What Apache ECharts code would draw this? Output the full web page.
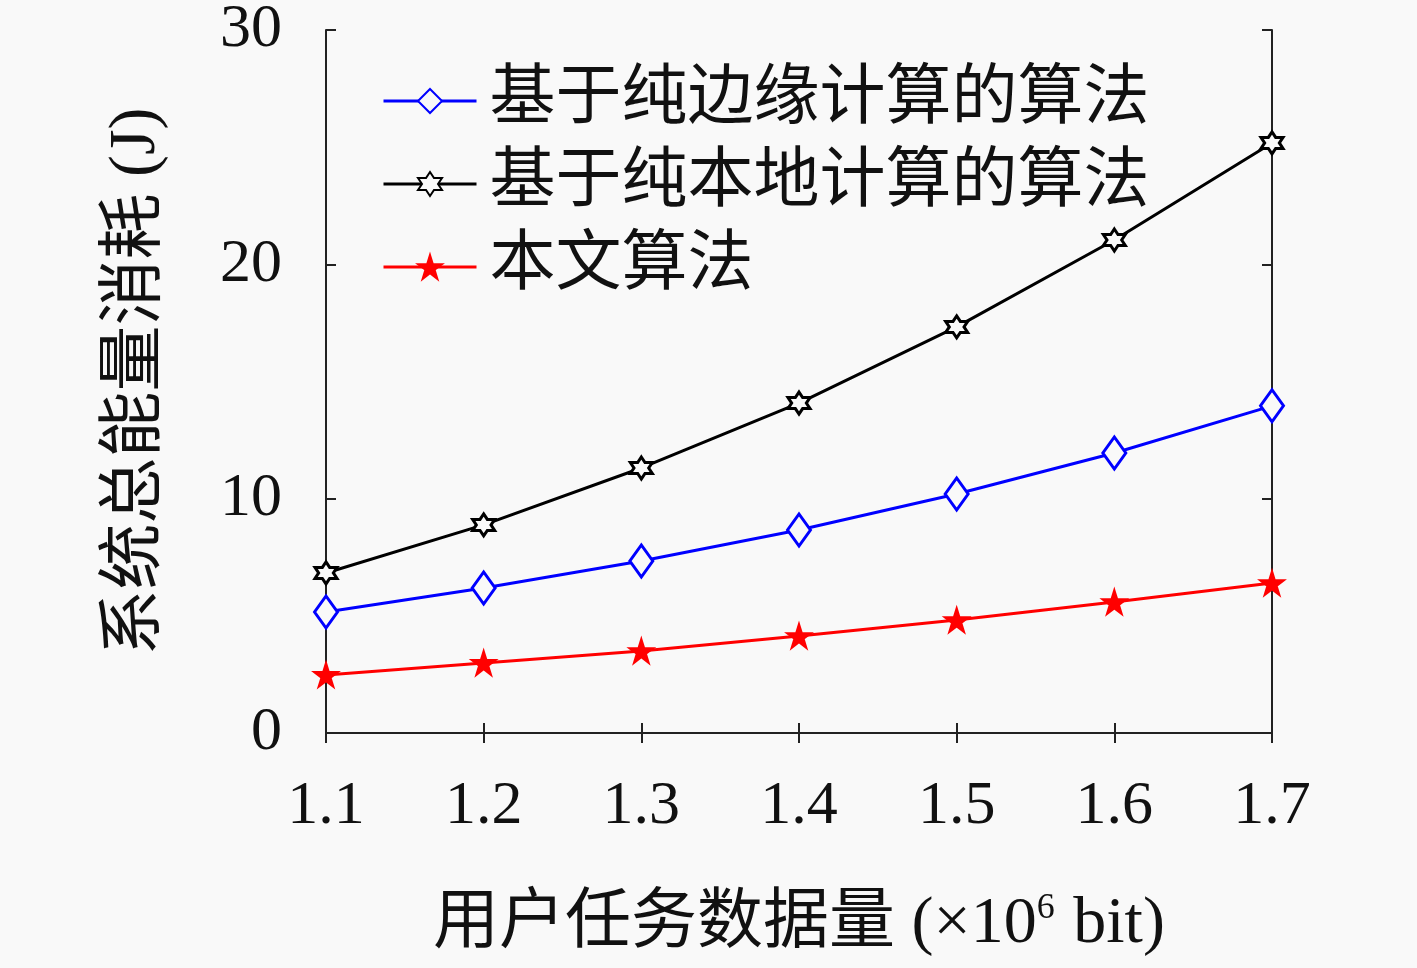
<!DOCTYPE html>
<html>
<head>
<meta charset="utf-8">
<script src="https://cdn.jsdelivr.net/npm/echarts@6/dist/echarts.min.js"></script>
<style>
	html, body { margin: 0; padding: 0; background: #f9f9f9; }
	#chart { width: 1417px; height: 968px; }
</style>
</head>
<body>
<div id="chart"></div>
<script>
var categories = ['1.1', '1.2', '1.3', '1.4', '1.5', '1.6', '1.7'];
var yTicks = [0, 10, 20, 30];
var edgeValues = [5.16, 6.19, 7.34, 8.66, 10.2, 11.95, 13.96];
var localValues = [6.83, 8.88, 11.31, 14.08, 17.33, 21.04, 25.18];
var oursValues = [2.48, 2.99, 3.5, 4.14, 4.82, 5.59, 6.4];
var seriesNames = ['基于纯边缘计算的算法', '基于纯本地计算的算法', '本文算法'];

var hexagram = 'path://M50,0L64.4,25L93.3,25L78.9,50L93.3,75L64.4,75L50,100L35.6,75L6.7,75L21.1,50L6.7,25L35.6,25Z';
var pentagram = 'path://M50,0L61.2,34.5L97.6,34.5L68.2,55.9L79.4,90.5L50,69.1L20.6,90.5L31.8,55.9L2.4,34.5L38.8,34.5Z';

var latin = 'Liberation Serif, DejaVu Serif, serif';
var cjk = 'Liberation Serif, Noto Sans CJK SC, serif';
var bg = '#f9f9f9';

var axisLine = { show: true, lineStyle: { color: '#222', width: 2 } };
var axisTick = { show: true, inside: true, length: 10, lineStyle: { color: '#222', width: 2 } };

var chart = echarts.init(document.getElementById('chart'));
chart.setOption({
	animation: false,
	backgroundColor: bg,
	grid: { left: 326, right: 145, top: 30, bottom: 235, outerBoundsMode: 'none', containLabel: false },
	legend: {
		left: 377,
		top: 63,
		orient: 'vertical',
		itemWidth: 93,
		itemHeight: 30,
		itemGap: 17,
		lineStyle: { width: 3 },
		textStyle: { fontFamily: cjk, fontSize: 66, color: '#111', padding: [0, 0, 0, 8] },
		data: seriesNames
	},
	xAxis: [{
		type: 'category',
		data: categories,
		boundaryGap: false,
		axisLine: axisLine,
		axisTick: axisTick,
		axisLabel: { fontFamily: latin, fontSize: 62, color: '#111', margin: 43 },
		name: '{c|用户任务数据量 (×10}{s|6}{c| bit)}',
		nameLocation: 'middle',
		nameGap: 158,
		nameTextStyle: {
			rich: {
				c: { fontFamily: cjk, fontSize: 66, color: '#111' },
				s: { fontFamily: latin, fontSize: 36, color: '#111', verticalAlign: 'top', padding: [0, 2, 32, 0] }
			}
		}
	}, {
		type: 'category',
		data: categories,
		boundaryGap: false,
		position: 'top',
		axisLine: axisLine,
		axisTick: axisTick,
		axisLabel: { show: false }
	}],
	yAxis: [{
		type: 'value',
		min: yTicks[0],
		max: yTicks[yTicks.length - 1],
		interval: 10,
		axisLine: axisLine,
		axisTick: axisTick,
		splitLine: { show: false },
		axisLabel: { fontFamily: latin, fontSize: 62, color: '#111', margin: 44 },
		name: '系统总能量消耗 (J)',
		nameLocation: 'middle',
		nameGap: 156,
		nameTextStyle: { fontFamily: cjk, fontSize: 66, color: '#111' }
	}, {
		type: 'value',
		min: yTicks[0],
		max: yTicks[yTicks.length - 1],
		interval: 10,
		position: 'right',
		axisLine: axisLine,
		axisTick: axisTick,
		splitLine: { show: false },
		axisLabel: { show: false }
	}],
	series: [{
		name: seriesNames[0],
		type: 'line',
		data: edgeValues,
		symbol: 'diamond',
		symbolSize: [23, 32],
		lineStyle: { color: '#0000ff', width: 3 },
		itemStyle: { color: bg, borderColor: '#0000ff', borderWidth: 3 },
		emphasis: { disabled: true },
		z: 3
	}, {
		name: seriesNames[1],
		type: 'line',
		data: localValues,
		symbol: hexagram,
		symbolSize: 22,
		lineStyle: { color: '#000', width: 3 },
		itemStyle: { color: bg, borderColor: '#000', borderWidth: 3 },
		emphasis: { disabled: true },
		z: 3
	}, {
		name: seriesNames[2],
		type: 'line',
		data: oursValues,
		symbol: pentagram,
		symbolSize: 24,
		lineStyle: { color: '#ff0000', width: 3 },
		itemStyle: { color: '#ff0000', borderColor: '#ff0000', borderWidth: 2 },
		emphasis: { disabled: true },
		z: 3
	}]
});
</script>
</body>
</html>
